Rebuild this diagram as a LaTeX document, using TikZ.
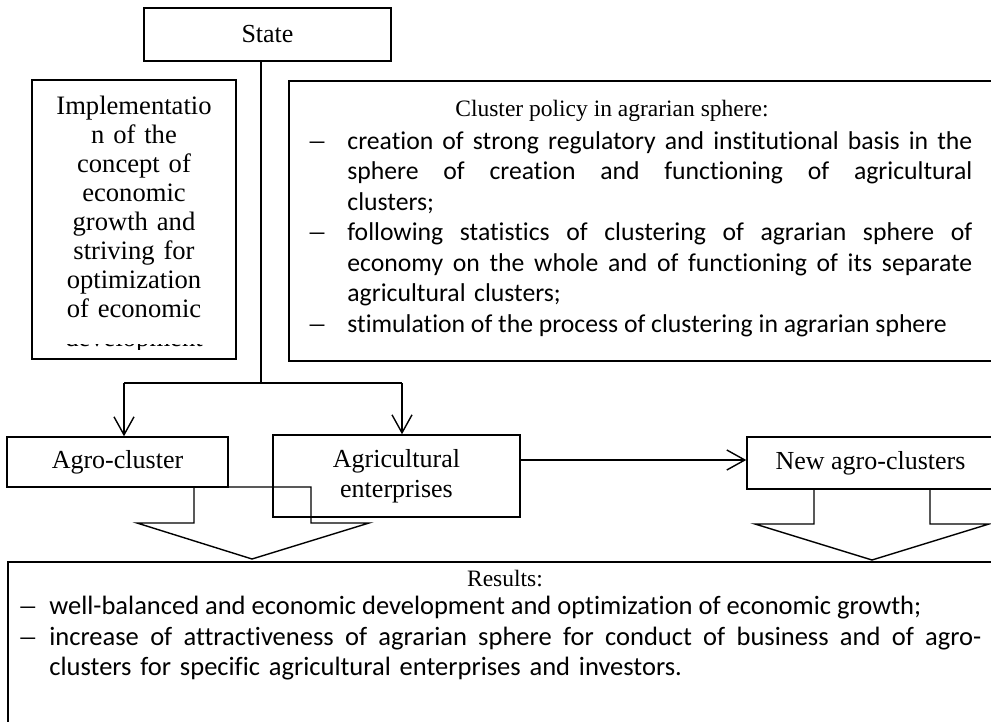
\documentclass[tikz,border=0pt]{standalone}
\usepackage{fontspec}
\setmainfont{Liberation Serif}
\newfontfamily\calfont[Ligatures=NoCommon]{Carlito}
\usetikzlibrary{arrows.meta}
% one line of a justified paragraph, its spaces spread to the given width
\newcommand\justline[2]{\leavevmode\hbox to #1{\spaceskip=0.226em plus 1fil\relax #2}}

\begin{document}
\begin{tikzpicture}[x=0.5pt,y=-0.5pt,
  box/.style={draw, line width=0.75pt, inner sep=0pt},
  lbl/.style={font=\fontsize{13pt}{15pt}\selectfont, align=center},
  ttl/.style={font=\fontsize{11.75pt}{14pt}\selectfont, inner sep=0pt},
  bulletdash/.style={font=\fontsize{14.5pt}{15pt}\selectfont, inner sep=0pt},
  cal/.style={font=\calfont\fontsize{13.25pt}{15.25pt}\selectfont, inner sep=0pt},
  calsm/.style={font=\calfont\fontsize{12.85pt}{15.25pt}\selectfont, inner sep=0pt},
  link/.style={line width=0.7pt, -{Straight Barb[length=9pt,width=10pt,line width=0.7pt]}},
  blockarrow/.style={draw, line width=0.7pt, line join=miter}
]
\useasboundingbox (0,0) rectangle (991,722);
\clip (0,0) rectangle (991,722);

% boxes
\node[box, lbl, minimum width=123.5pt, minimum height=26.5pt] (state) at (267.5,34.5) {State};
\node[box, minimum width=102pt, minimum height=139.5pt] (impl) at (134,219.5) {};
\node[box, minimum width=355.5pt, minimum height=140pt] (policy) at (644.5,221) {};
\node[box, lbl, minimum width=110.5pt, minimum height=25pt] (agro) at (117.5,462) {Agro-cluster};
\node[box, lbl, minimum width=123.5pt, minimum height=41pt, text depth=3pt] (agri) at (396.5,476) {Agricultural\\enterprises};
\node[box, lbl, minimum width=123.5pt, minimum height=26pt] (newagro) at (870.5,463) {New agro-clusters};
\node[box, line width=1pt, minimum width=496pt, minimum height=89pt] (results) at (504,651) {};

% text of the left box; its last line is cut down to a thin strip
\begin{scope}
  \clip (32,80) rectangle (236,326) (32,344) rectangle (236,349);
  \node[anchor=base, font=\fontsize{13.3pt}{14.5pt}\selectfont, align=center,
        text width=102pt, inner sep=0pt] (impltext) at (134,115)
    {Implementatio\\n of the\\concept of\\economic\\growth and\\striving for\\optimization\\of economic\\development};
\end{scope}

% cluster policy box contents
\node[anchor=base, ttl] (policytitle) at (612,117) {Cluster policy in agrarian sphere:};
\node[anchor=base, bulletdash] (pd1) at (317,149) {–};
\node[anchor=base, bulletdash] (pd2) at (317,241) {–};
\node[anchor=base, bulletdash] (pd3) at (317,332) {–};
\begin{scope}
  \clip (289,81) rectangle (1000,338);
  \node[anchor=base west, calsm, text width=312.5pt] (p1) at (347,149)
    {\justline{312.5pt}{creation of strong regulatory and institutional basis in the}\\
     \justline{312.5pt}{sphere of creation and functioning of agricultural}\\
     clusters;};
  \node[anchor=base west, calsm, text width=312.5pt] (p2) at (347,241)
    {\justline{312.5pt}{following statistics of clustering of agrarian sphere of}\\
     \justline{312.5pt}{economy on the whole and of functioning of its separate}\\
     agricultural clusters;};
  \node[anchor=base west, calsm] (p3) at (347,332)
    {stimulation of the process of clustering in agrarian sphere};
\end{scope}

% connectors from the state
\coordinate (jm) at (261,383);
\coordinate (jl) at (124,383);
\coordinate (jr) at (402,383);
\coordinate (hy) at (0,460);
\draw[line width=0.7pt] (jm |- state.south) -- (jm);
\draw[line width=0.7pt] (jl) -- (jr);
\draw[link] (jl) -- (jl |- agro.north);
\draw[link] (jr) -- (jr |- agri.north);
\draw[link] (agri.east |- hy) -- (newagro.west |- hy);

% block arrows towards the results
\draw[blockarrow] (194,487) -- (311,487) -- (311,523) -- (369,523) -- (252,559)
  -- (137,523) -- (194,523) -- cycle;
\draw[blockarrow] (814,489) -- (930,489) -- (930,524) -- (989,524) -- (872,560)
  -- (755,524) -- (814,524) -- cycle;

% results box contents
\node[anchor=base, ttl] (resultstitle) at (505,586) {Results:};
\node[anchor=base, bulletdash] (rd1) at (28,614) {–};
\node[anchor=base west, cal] (r1) at (49,614)
  {well-balanced and economic development and optimization of economic growth;};
\node[anchor=base, bulletdash] (rd2) at (28,645) {–};
\node[anchor=base west, cal, text width=466pt] (r2) at (49,645)
  {\justline{466pt}{increase of attractiveness of agrarian sphere for conduct of business and of agro-}\\
   clusters for specific agricultural enterprises and investors.};
\end{tikzpicture}
\end{document}
